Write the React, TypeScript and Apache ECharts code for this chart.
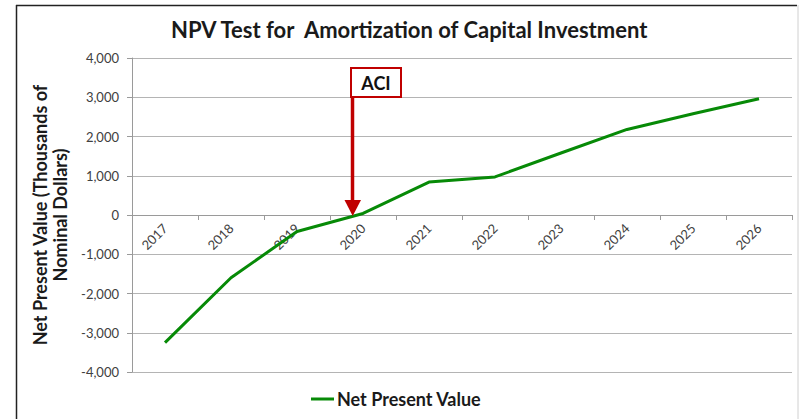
import React, { useEffect, useRef } from "react";
import * as echarts from "echarts";

const years: string[] = ["2017", "2018", "2019", "2020", "2021", "2022", "2023", "2024", "2025", "2026"];
const npvValues: number[] = [-3250, -1600, -420, 40, 840, 970, 1580, 2180, 2580, 2960];
const seriesName = "Net Present Value";
const titleText = "NPV Test for  Amortization of Capital Investment";
const yAxisTitle = "Net Present Value (Thousands of\nNominal Dollars)";
const annotationLabel = "ACI";

const FONT = "Lato, 'Open Sans', sans-serif";

const GRID_TOP = 58;
const GRID_BOTTOM = 47;
const CHART_H = 419;

export default function App() {
  const ref = useRef<HTMLDivElement>(null);
  useEffect(() => {
    if (!ref.current) return;
    const chart = echarts.init(ref.current, undefined, { renderer: "svg" });
    const plotH = CHART_H - GRID_TOP - GRID_BOTTOM;
    chart.setOption({
      animation: false,
      backgroundColor: "#ffffff",
      textStyle: { fontFamily: FONT },
      title: {
        text: titleText,
        left: 171,
        top: 18,
        padding: 0,
        textStyle: { fontFamily: FONT, fontSize: 22, fontWeight: "bold", color: "#1a1a1a" },
      },
      legend: {
        data: [seriesName],
        left: 311,
        top: 390,
        padding: 0,
        icon: "rect",
        itemWidth: 23,
        itemHeight: 3,
        itemGap: 5,
        textStyle: { fontFamily: FONT, fontSize: 18, fontWeight: "bold", color: "#1a1a1a", padding: [0, 0, 0, -2] },
      },
      grid: { left: 132, right: 14, top: GRID_TOP, bottom: GRID_BOTTOM, containLabel: false },
      xAxis: {
        type: "category",
        data: years,
        boundaryGap: true,
        offset: -plotH / 2,
        axisLine: { onZero: false, lineStyle: { color: "#9a9a9a", width: 1 } },
        axisTick: { show: true, length: 5, lineStyle: { color: "#9a9a9a" } },
        axisLabel: { rotate: 45, margin: 11, fontSize: 13, color: "#404040", fontFamily: FONT, interval: 0 },
        splitLine: { show: false },
      },
      yAxis: {
        type: "value",
        min: -4000,
        max: 4000,
        interval: 1000,
        name: yAxisTitle,
        nameLocation: "middle",
        nameRotate: 90,
        nameGap: 56,
        nameTextStyle: { fontFamily: FONT, fontSize: 18, fontWeight: "bold", color: "#1a1a1a", lineHeight: 20 },
        axisLine: { show: true, lineStyle: { color: "#9a9a9a", width: 1 } },
        axisTick: { show: true, length: 5, lineStyle: { color: "#9a9a9a" } },
        axisLabel: {
          margin: 13,
          fontSize: 13,
          color: "#404040",
          fontFamily: FONT,
          formatter: (v: number) => v.toLocaleString("en-US"),
        },
        splitLine: { show: true, lineStyle: { color: "#b4b4b4", width: 1 } },
      },
      series: [
        {
          name: seriesName,
          type: "line",
          data: npvValues,
          symbol: "none",
          lineStyle: { color: "#078a07", width: 3 },
          itemStyle: { color: "#078a07" },
        },
      ],
      graphic: [
        { type: "line", shape: { x1: 16, y1: 5.5, x2: 797, y2: 5.5 }, style: { stroke: "#222", lineWidth: 1.5 } },
        { type: "line", shape: { x1: 16.5, y1: 5, x2: 16.5, y2: 419 }, style: { stroke: "#222", lineWidth: 1.5 } },
        { type: "line", shape: { x1: 798, y1: 5, x2: 798, y2: 419 }, style: { stroke: "#d0d0d0", lineWidth: 1 } },
        { type: "line", shape: { x1: 352.5, y1: 97, x2: 352.5, y2: 202 }, style: { stroke: "#c00000", lineWidth: 3.5 }, z: 20 },
        {
          type: "polygon",
          shape: { points: [[344.5, 200], [361, 200], [352.7, 216]] },
          style: { fill: "#c00000" },
          z: 20,
        },
        {
          type: "rect",
          shape: { x: 351, y: 68, width: 50, height: 29 },
          style: { fill: "#ffffff", stroke: "#c00000", lineWidth: 2 },
          z: 20,
        },
        {
          type: "text",
          x: 376,
          y: 83,
          style: {
            text: annotationLabel,
            fontFamily: FONT,
            fontSize: 18,
            fontWeight: "bold",
            fill: "#111",
            align: "center",
            verticalAlign: "middle",
          },
          z: 21,
        },
      ],
    });
    return () => chart.dispose();
  }, []);
  return <div ref={ref} style={{ position: "fixed", left: 0, top: 0, width: 806, height: 419 }} />;
}
